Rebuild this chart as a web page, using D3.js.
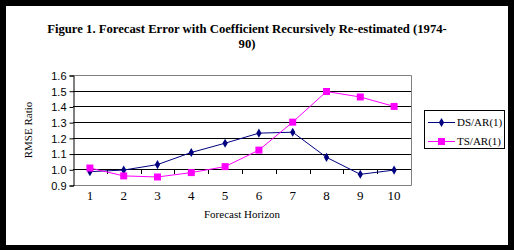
<!DOCTYPE html>
<html><head><meta charset="utf-8">
<script src="https://cdn.jsdelivr.net/npm/d3@7"></script>
<style>body{margin:0;background:#000;} svg{display:block;}</style>
</head><body>
<script>
const categories = ["1","2","3","4","5","6","7","8","9","10"];
const dsValues = [0.985, 0.995, 1.03, 1.107, 1.166, 1.23, 1.236, 1.076, 0.968, 0.995];
const tsValues = [1.008, 0.958, 0.951, 0.979, 1.017, 1.122, 1.30, 1.495, 1.46, 1.40];
const yTicks = [0.9, 1.0, 1.1, 1.2, 1.3, 1.4, 1.5, 1.6];
const seriesNames = ["DS/AR(1)", "TS/AR(1)"];

const W = 514, H = 250;
const svg = d3.select("body").append("svg").attr("width", W).attr("height", H);
svg.append("rect").attr("width", W).attr("height", H).attr("fill", "#000");
svg.append("rect").attr("x", 6).attr("y", 6).attr("width", 502).attr("height", 239).attr("fill", "#fff");

const serif = "'Liberation Serif','Times New Roman',serif";
const sans = "'Liberation Sans',Arial,sans-serif";

// title
const title = svg.append("text").attr("text-anchor", "middle").attr("font-family", serif)
  .attr("font-weight", "bold").attr("font-size", 12.7).attr("fill", "#000");
title.append("tspan").attr("x", 247).attr("y", 33).text("Figure 1. Forecast Error with Coefficient Recursively Re-estimated (1974-");
title.append("tspan").attr("x", 247).attr("y", 48).text("90)");

const L = 73, R = 411, T = 75, B = 185;
const x = d3.scaleBand().domain(categories).range([L, R]);
const y = d3.scaleLinear().domain([0.9, 1.6]).range([B, T]);

// gridlines
svg.append("g").selectAll("line").data(yTicks.filter(v => v > 0.95 && v < 1.55)).join("line")
  .attr("x1", L).attr("x2", R).attr("y1", d => Math.round(y(d)) + 0.5).attr("y2", d => Math.round(y(d)) + 0.5)
  .attr("stroke", "#000").attr("stroke-width", 1);

// plot border (gray)
svg.append("path").attr("d", `M${L},${T + 0.5}H${R + 0.5}V${B + 0.5}H${L}`)
  .attr("fill", "none").attr("stroke", "#808080").attr("stroke-width", 1);

// y axis
const yAxis = d3.axisLeft(y).tickValues(yTicks).tickFormat(d3.format(".1f")).tickSize(4).tickPadding(3);
const gy = svg.append("g").attr("transform", `translate(${L + 0.5},0.5)`).call(yAxis);
gy.select(".domain").attr("stroke", "#000");
gy.selectAll(".tick line").attr("stroke", "#000");
gy.selectAll("text").attr("font-family", sans).attr("font-size", 11).attr("fill", "#000").attr("dy", "0.35em");

// x ticks at category boundaries on the 1.0 line
const bounds = categories.slice(1).map(c => x(c));
svg.append("g").selectAll("line").data(bounds).join("line")
  .attr("x1", d => Math.round(d) + 0.5).attr("x2", d => Math.round(d) + 0.5)
  .attr("y1", Math.round(y(1.0))).attr("y2", Math.round(y(1.0)) + 5)
  .attr("stroke", "#000");

// x labels
svg.append("g").selectAll("text").data(categories).join("text")
  .attr("x", d => x(d) + x.bandwidth() / 2).attr("y", 199.5).attr("text-anchor", "middle")
  .attr("font-family", serif).attr("font-size", 13).attr("fill", "#000").text(d => d);

svg.append("text").attr("x", 242).attr("y", 218).attr("text-anchor", "middle")
  .attr("font-family", serif).attr("font-size", 11).attr("fill", "#000").text("Forecast Horizon");

svg.append("text").attr("transform", "translate(32,130) rotate(-90)").attr("text-anchor", "middle")
  .attr("font-family", serif).attr("font-size", 11).attr("fill", "#000").text("RMSE Ratio");

const cx = d => x(d) + x.bandwidth() / 2;
const line = d3.line().x(d => cx(d[0])).y(d => y(d[1]));

const diamond = d3.symbol().type(d3.symbolDiamond).size(24);
// DS series
const dsData = categories.map((c, i) => [c, dsValues[i]]);
svg.append("path").attr("d", line(dsData)).attr("fill", "none").attr("stroke", "#000080").attr("stroke-width", 1);
svg.append("g").selectAll("path").data(dsData).join("path")
  .attr("transform", d => `translate(${cx(d[0])},${y(d[1])})`).attr("d", diamond).attr("fill", "#000080");

// TS series
const tsData = categories.map((c, i) => [c, tsValues[i]]);
svg.append("path").attr("d", line(tsData)).attr("fill", "none").attr("stroke", "#FF00FF").attr("stroke-width", 1);
svg.append("g").selectAll("rect").data(tsData).join("rect")
  .attr("x", d => cx(d[0]) - 3.5).attr("y", d => y(d[1]) - 3.5).attr("width", 7).attr("height", 7).attr("fill", "#FF00FF");

// legend
const lg = svg.append("g");
lg.append("rect").attr("x", 424.5).attr("y", 110.5).attr("width", 80).attr("height", 38)
  .attr("fill", "#fff").attr("stroke", "#000");
const colors = ["#000080", "#FF00FF"];
seriesNames.forEach((n, i) => {
  const yy = 122 + i * 19;
  lg.append("line").attr("x1", 428).attr("x2", 455).attr("y1", yy + 0.5).attr("y2", yy + 0.5).attr("stroke", colors[i]);
  if (i === 0) lg.append("path").attr("transform", `translate(441.5,${yy + 0.5})`).attr("d", diamond).attr("fill", colors[i]);
  else lg.append("rect").attr("x", 438).attr("y", yy - 3).attr("width", 7).attr("height", 7).attr("fill", colors[i]);
  lg.append("text").attr("x", 457).attr("y", yy + 4).attr("font-family", serif).attr("font-size", 11)
    .attr("fill", "#000").text(n);
});
</script>
</body></html>
